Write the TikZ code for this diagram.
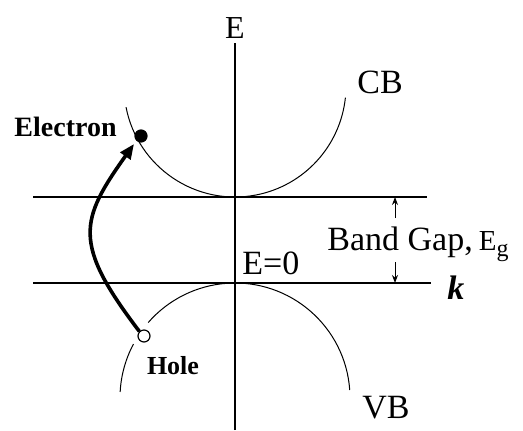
\documentclass[tikz,border=0pt]{standalone}
\usepackage{fontspec}
\setmainfont{Liberation Serif}
\usetikzlibrary{arrows.meta,positioning,calc}

\begin{document}
\begin{tikzpicture}[
    x=0.5pt, y=0.5pt,
    axisline/.style={line width=0.8pt},
    bandline/.style={line width=0.5pt},
    gaparrow/.style={-{Stealth[length=4pt,width=3pt]}, line width=0.5pt},
    lbl/.style={font=\fontsize{17}{17}\selectfont, inner sep=0pt},
    carrier/.style={circle, draw, line width=0.6pt, minimum size=6pt, inner sep=0pt},
    >=stealth
  ]
    \useasboundingbox (0,0) rectangle (523,430);

    % Energy axis
    \coordinate (eTop) at (235,387);
    \coordinate (eBot) at (235,0);
    \draw[axisline] (eBot) -- (eTop);
    \node[font=\fontsize{16}{16}\selectfont, inner sep=0pt] (eLabel) at (235,402) {E};

    % Band edges
    \coordinate (cbL) at (33,233);
    \coordinate (cbR) at (427,233);
    \coordinate (vbL) at (33,147);
    \coordinate (vbR) at (431,147);
    \draw[axisline] (cbL) -- (cbR);
    \draw[axisline] (vbL) -- (vbR);
    \node[lbl, anchor=west] (kLabel) at (447,142) {\bfseries\itshape k};
    \node[lbl, anchor=south west] (zeroLabel) at (242,155) {E=0};

    % Conduction band
    \coordinate (cbCenter) at (235,344);
    \draw[bandline] ($(cbCenter)+(191:111)$) arc[start angle=191, end angle=354, radius=111];
    \node[lbl] (cbLabel) at (380,348) {CB};

    % Valence band (broken round the hole)
    \coordinate (vbCenter) at (235,32);
    \draw[bandline] ($(vbCenter)+(4:115)$) arc[start angle=4, end angle=139, radius=115];
    \draw[bandline] ($(vbCenter)+(152:115)$) arc[start angle=152, end angle=177, radius=115];
    \node[lbl] (vbLabel) at (386,22) {VB};

    % Carriers
    \node[carrier, fill=black] (electron) at (141,294) {};
    \node[carrier, fill=white] (hole) at (144,94) {};
    \node[font=\bfseries\fontsize{14}{14}\selectfont, anchor=east, inner sep=0pt]
      (electronLabel) at (117,303) {Electron};
    \node[font=\bfseries\fontsize{13}{13}\selectfont, inner sep=0pt]
      (holeLabel) at (173,64) {Hole};

    % Excitation
    \draw[line width=1.8pt, -{Triangle[length=7.5pt,width=6pt]}, shorten >=2pt]
      (hole.north west) .. controls (72,187) and (80,210) .. (electron.south west);

    % Band gap
    \coordinate (gapUp) at (395,212);
    \coordinate (gapTop) at (395,233);
    \coordinate (gapDown) at (395,168);
    \coordinate (gapBot) at (395,147);
    \draw[gaparrow] (gapUp) -- (gapTop);
    \draw[gaparrow] (gapDown) -- (gapBot);
    \node[lbl, anchor=base west] (gapLabel) at (327,180)
      {Band Gap,\hspace{3pt}{\fontsize{14.5}{14}\selectfont E}\raisebox{-3pt}{\fontsize{12}{12}\selectfont g}};
  \end{tikzpicture}
\end{document}
